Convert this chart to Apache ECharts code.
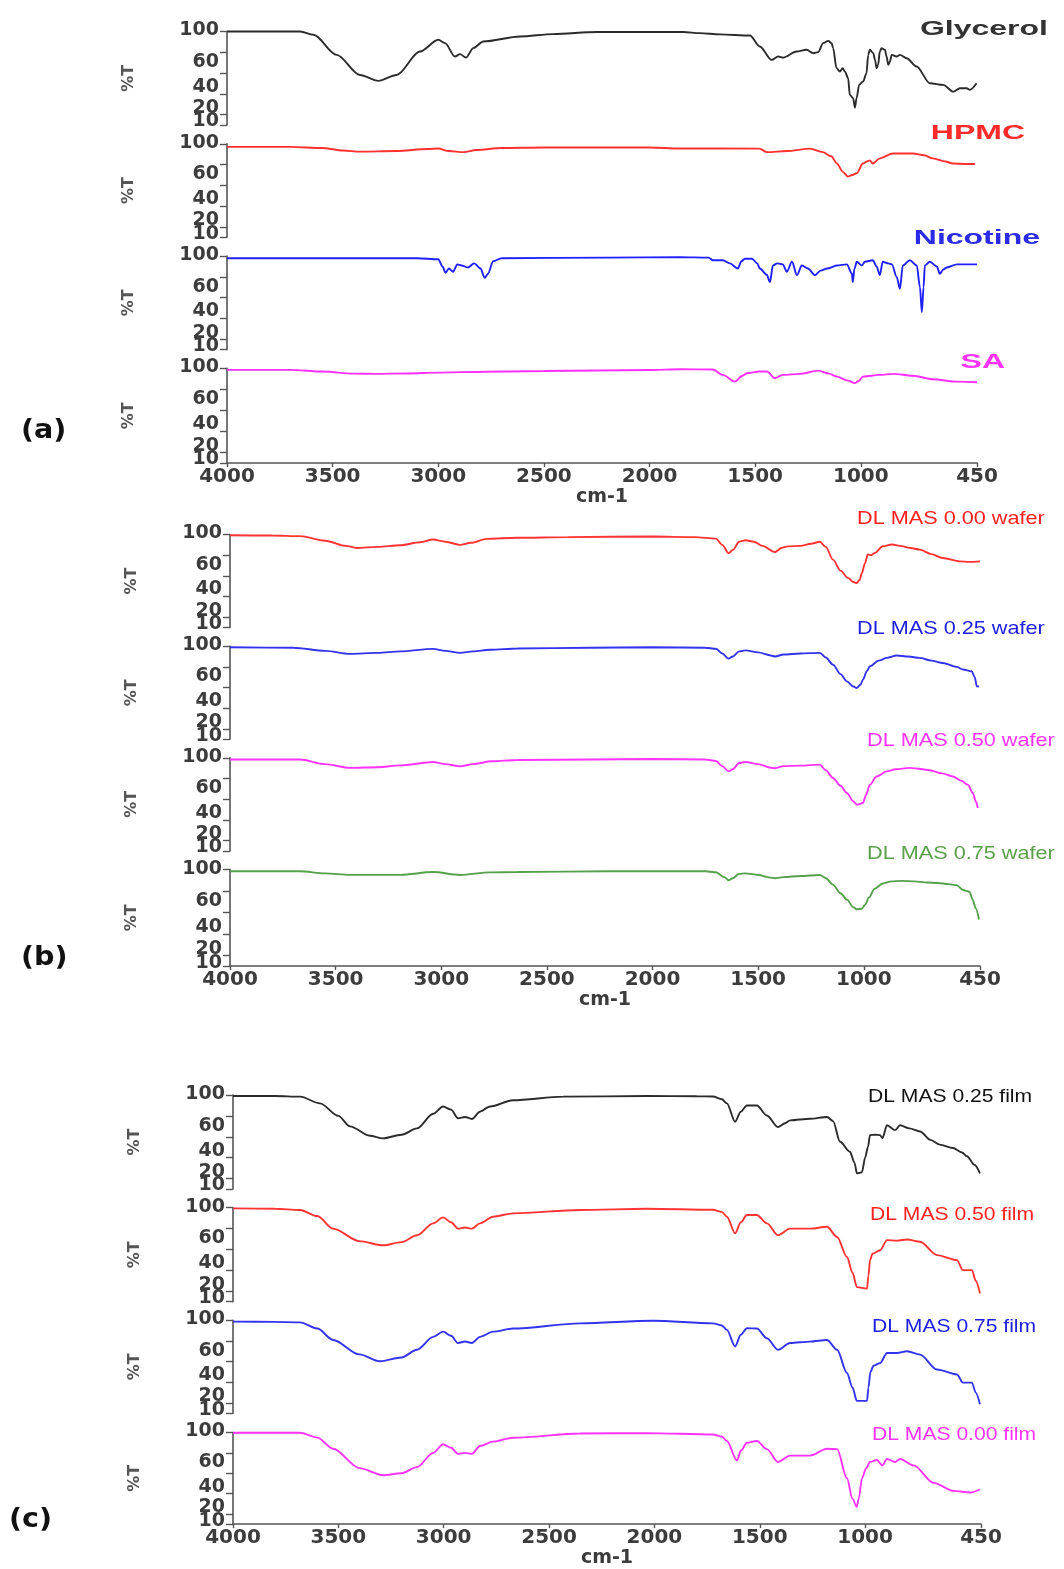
<!DOCTYPE html>
<html>
<head>
<meta charset="utf-8">
<script src="https://cdn.jsdelivr.net/npm/echarts@6/dist/echarts.min.js"></script>
<style>
html,body{margin:0;padding:0;background:#fff;}
#chart{width:1064px;height:1569px;}
</style>
</head>
<body>
<div id="chart"></div>
<script>
// ---------- tick values ----------
const xTicks = [4000, 3500, 3000, 2500, 2000, 1500, 1000, 450];
const yTicks = [100, 80, 60, 40, 20, 10];
const yTickLabels = [100, 60, 40, 20, 10];
const xAxisTitle = 'cm-1';
const yAxisTitle = '%T';
const panelLetters = ['(a)', '(b)', '(c)'];

// ---------- series names ----------
const namesA = ['Glycerol', 'HPMC', 'Nicotine', 'SA'];
const namesB = ['DL MAS 0.00 wafer', 'DL MAS 0.25 wafer', 'DL MAS 0.50 wafer', 'DL MAS 0.75 wafer'];
const namesC = ['DL MAS 0.25 film', 'DL MAS 0.50 film', 'DL MAS 0.75 film', 'DL MAS 0.00 film'];

// ---------- data: [wavenumber cm-1, %T] ----------
const glycerol = [[4000,100],[3654,100],[3591,96.8],[3481,77.5],[3371,58.2],[3284,52.5],[3197,58.2],[3087,80.7],[3000,92],[2968,88.8],[2921,75.9],[2897,78.2],[2869,74.9],[2834,84],[2787,90.4],[2613,95.2],[2456,97.5],[2250,99.5],[1840,99.5],[1762,98.4],[1667,97.2],[1525,96.1],[1478,85.5],[1422,72.7],[1391,75.9],[1367,74.9],[1304,80.7],[1257,82.4],[1225,79.2],[1202,80.1],[1178,88.8],[1154,91],[1138,88.8],[1131,84],[1115,64.7],[1099,61.4],[1086,64.7],[1075,61.4],[1060,55],[1052,39],[1036,35.8],[1028,26.7],[1020,35.8],[1008,48.6],[989,51.8],[973,59.9],[965,77.5],[957,82.4],[941,79.2],[933,72.7],[925,64.7],[918,67.9],[910,80.7],[902,84],[886,82.4],[878,75.9],[870,67.9],[862,71],[854,77.5],[831,75.9],[815,77.5],[783,74.3],[736,66.3],[673,50.2],[610,48.6],[563,42.1],[531,45.4],[499,45.4],[484,43.8],[452,50.2]];
const hpmc = [[4000,97],[3700,97],[3550,96],[3450,93.5],[3370,92.5],[3200,93],[3050,95],[3000,95.5],[2950,93],[2880,92],[2820,94],[2700,96],[2500,96.5],[2000,96.5],[1856,95.5],[1480,95.4],[1444,92],[1350,93],[1241,95.4],[1180,92],[1140,88],[1113,81],[1085,73],[1061,68.5],[1040,70],[1019,71.7],[990,81],[970,83],[957,84],[943,81],[910,86],[848,90.6],[753,90.6],[700,89],[659,86],[600,83],[564,81],[500,80.5],[460,80.5]];
const nicotine = [[4000,98],[3500,98],[3100,98],[3000,97],[2980,90],[2965,84],[2950,88],[2930,85],[2910,92],[2890,91],[2860,89],[2830,93],[2800,88],[2780,79],[2765,83],[2740,95],[2700,98],[2200,98.5],[1856,99],[1720,98.5],[1700,96],[1653,96],[1620,93],[1582,88],[1565,95],[1549,97.5],[1515,97.5],[1490,93],[1478,88],[1445,82],[1430,75],[1416,91],[1395,93],[1369,92],[1350,85],[1326,94.5],[1302,81.7],[1279,91],[1250,88],[1217,81.7],[1190,86],[1160,88],[1113,91],[1066,92],[1042,83],[1038,75],[1030,88],[1019,94.5],[995,91],[981,94.5],[943,96],[925,90],[910,81.7],[896,94.5],[870,93],[853,92],[830,80],[815,68.6],[801,91],[768,96],[735,91],[720,70],[711,46],[703,70],[697,91],[673,94.5],[640,90],[626,83],[610,87],[593,89],[545,92],[500,92],[450,92]];
const sa = [[4000,98.6],[3700,98.6],[3550,97],[3400,95],[3300,94.8],[3150,95.2],[3000,96],[2900,96.5],[2500,97.5],[2000,98.5],[1856,99.2],[1700,99],[1653,93.8],[1596,87.4],[1560,93],[1539,95.4],[1480,97],[1444,97],[1407,90.7],[1369,93.8],[1288,94.8],[1203,97.9],[1150,95],[1113,92.2],[1061,88.4],[1028,86],[1010,88],[990,92.2],[910,93.8],[848,94.8],[753,93],[659,89.7],[545,87.4],[450,86.8]];

const wafer000 = [[4000,99.3],[3800,99],[3669,98.4],[3550,94],[3450,89],[3400,87],[3300,88],[3195,89.6],[3100,92.5],[3039,95.1],[2980,93],[2911,90],[2860,92],[2784,95.8],[2642,96.8],[2400,97.5],[2000,98],[1800,97.5],[1700,96],[1670,90],[1640,82],[1620,85],[1590,93],[1560,94.5],[1520,93],[1480,89],[1420,83],[1390,87],[1360,88.5],[1300,89],[1250,91],[1208,93],[1180,88],[1146,75.7],[1110,65],[1075,58],[1050,54],[1033,53],[1020,56],[1009,62.8],[995,72],[981,80.6],[965,80],[948,82.2],[910,88.6],[867,90.3],[829,89],[780,87],[735,85.4],[680,81],[626,77.3],[545,74],[500,73.5],[450,74]];
const wafer025 = [[4000,99],[3700,98.5],[3550,95.5],[3432,92.6],[3300,93.5],[3195,95],[3039,97.4],[2980,95.5],[2911,93.5],[2850,95],[2770,96.5],[2640,97.8],[2300,98.5],[2000,99],[1750,98.5],[1700,97.5],[1670,93],[1640,88],[1620,90],[1590,95],[1560,96],[1500,94],[1440,91],[1420,90],[1380,92],[1300,93],[1208,93.5],[1180,89],[1146,82.2],[1110,73],[1080,66],[1050,61],[1033,59.6],[1015,63],[1004,67.7],[985,76],[971,80.6],[930,86],[891,88.7],[844,91],[790,90],[735,88.7],[680,86],[626,83.8],[560,80],[531,77.4],[489,75.7],[475,70],[465,61.2],[455,61]];
const wafer050 = [[4000,98.4],[3669,98.4],[3550,94],[3432,90.3],[3300,91],[3195,92.8],[3039,96],[2980,94],[2911,91.8],[2850,94],[2760,96.7],[2640,98],[2300,98.5],[2000,99],[1750,98.5],[1700,97],[1670,92],[1640,87],[1620,89],[1590,95],[1560,96],[1500,94],[1440,90.5],[1420,90],[1380,92],[1300,92.5],[1208,93.5],[1180,88],[1146,80.6],[1110,73],[1080,66],[1050,58],[1033,54.7],[1004,56.3],[990,64],[971,74],[940,82],[891,87],[850,89],[782,90.3],[740,89.5],[688,88],[630,85],[578,82],[540,78],[507,74],[484,66],[470,58],[460,51.5]];
const wafer075 = [[4000,98.4],[3669,98.4],[3550,96.5],[3432,95.1],[3195,95.1],[3039,97.7],[2911,95],[2770,97.4],[2640,97.7],[2200,98.5],[1750,98.5],[1700,97.5],[1660,93],[1640,90],[1620,92],[1590,96],[1560,96.5],[1500,95],[1440,92.5],[1420,92],[1380,93],[1300,94],[1208,95],[1180,92],[1146,86],[1110,78],[1080,72],[1050,65],[1033,63],[1010,63.5],[995,67],[975,74],[950,82],[910,87],[870,89],[820,89.5],[760,89],[700,88],[650,87.5],[600,86.5],[560,85.5],[530,81],[500,79.5],[485,72],[470,64],[455,53.5]];

const film025 = [[4000,99],[3800,99],[3682,98.4],[3587,92],[3500,80],[3445,70],[3350,61],[3288,58.5],[3200,62],[3127,68],[3050,82],[3003,89],[2965,86],[2932,77.7],[2899,79],[2866,77],[2828,84],[2780,89],[2671,95],[2434,98.4],[2035,99],[1800,98.8],[1722,98.5],[1680,96],[1656,92],[1617,74.4],[1590,84],[1561,90],[1514,90],[1466,80.4],[1414,69.3],[1380,73],[1356,75.7],[1261,77.3],[1181,79],[1152,75],[1119,55.2],[1072,45.6],[1050,35],[1039,25],[1015,26],[1000,40],[986,50.5],[977,61.6],[950,62],[929,61.6],[918,58.7],[896,71],[858,66.4],[834,71],[790,68],[739,65],[690,57],[645,52.5],[583,49.2],[540,45],[517,41.4],[480,33],[455,25]];
const film050 = [[4000,99.4],[3800,99],[3682,97.8],[3600,92],[3525,80],[3400,68],[3288,64],[3200,67],[3127,73.6],[3050,85],[3003,90.7],[2965,86],[2932,80],[2899,81],[2866,80],[2828,85],[2766,91.4],[2671,94.6],[2353,97.8],[2035,99],[1722,98],[1680,96],[1656,91.4],[1617,75.4],[1590,86],[1561,93],[1514,93],[1466,85],[1414,73.7],[1356,80],[1261,80],[1181,81.7],[1133,72],[1086,52.8],[1060,38],[1039,24],[991,22.5],[984,35],[977,49.7],[965,56],[929,59.3],[896,69],[849,68.5],[801,69.6],[739,67.4],[659,54.6],[564,49.8],[536,40.2],[493,40.2],[475,30],[455,18]];
const film075 = [[4000,98.7],[3800,98.5],[3682,98],[3600,92],[3525,81],[3400,67],[3303,60.3],[3200,64],[3127,71.5],[3050,84],[3003,89],[2965,85],[2932,78],[2899,79.5],[2866,78],[2828,84],[2766,89],[2671,92],[2353,97],[2007,99.6],[1722,97],[1680,95],[1656,90.7],[1617,74.7],[1590,86],[1561,92.3],[1514,92],[1466,82.6],[1414,71.5],[1356,78],[1261,79.4],[1181,81],[1133,71.5],[1086,49],[1060,35],[1039,22],[991,22],[984,35],[975,50],[960,56],[929,58.6],[896,68.4],[849,68.4],[801,70],[739,66.8],[659,52.4],[564,47.6],[536,39.7],[493,39.7],[475,30],[455,18.8]];
const film000 = [[4000,99.7],[3682,99.7],[3600,95],[3525,84],[3400,65],[3288,58],[3200,60],[3127,66],[3050,80],[3003,88.5],[2965,85],[2932,79],[2899,80],[2866,79],[2828,86.8],[2766,91],[2671,94.9],[2353,99],[2035,99.4],[1722,98],[1680,96],[1656,91.7],[1608,72.5],[1590,82],[1561,90],[1514,91.7],[1466,83.7],[1414,71],[1356,77.3],[1261,77.3],[1181,84],[1133,83.7],[1086,55],[1060,35],[1040,27],[1030,35],[1015,55],[995,65],[977,71],[945,73],[918,67.7],[896,74],[858,71],[834,74],[770,67.7],[675,50.5],[580,42.6],[500,41],[455,44]];

// ---------- layout / styling (not data) ----------
const panels = [
  { left:227, right:977, tops:[31.5,143.8,256.1,368.4], heights:[93.5,93.5,93.5,94.6],
    data:[glycerol,hpmc,nicotine,sa], names:namesA,
    colors:['#2b2b2b','#ff3030','#2020ff','#ff30ff'],
    textColors:['#333333','#ff2a2a','#2a2ae8','#ff33ff'],
    labelPos:[[1048,29,'right'],[1025,133,'right'],[1040,238,'right'],[1005,362,'right']],
    labelFont:'bold 20px "Liberation Sans", Arial, sans-serif', labelScale:1.6,
    letterPos:[21,431] },
  { left:230, right:980, tops:[534.5,646.2,757.9,869.6], heights:[93,93,93,96.5],
    data:[wafer000,wafer025,wafer050,wafer075], names:namesB,
    colors:['#ff3333','#3333ee','#ff33ff','#55a04a'],
    textColors:['#ff2020','#2020e0','#ff33ff','#5aa04a'],
    labelPos:[[857,519,'left'],[857,629,'left'],[867,741,'left'],[867,854,'left']],
    labelFont:'19px "Liberation Sans", Arial, sans-serif', labelScale:1.14,
    letterPos:[21,958] },
  { left:233, right:981, tops:[1095,1207.7,1320.3,1432.5], heights:[94,94,93,95.5],
    data:[film025,film050,film075,film000], names:namesC,
    colors:['#2b2b2b','#ff3333','#3333ee','#ff33ff'],
    textColors:['#111111','#ff2020','#2020e0','#ff33ff'],
    labelPos:[[868,1097,'left'],[870,1215,'left'],[872,1327,'left'],[872,1435,'left']],
    labelFont:'19px "Liberation Sans", Arial, sans-serif', labelScale:1.11,
    letterPos:[9,1520] }
];

const axisColor = '#555';
const tickFont = { fontFamily:'"DejaVu Sans", sans-serif', fontWeight:'bold', fontSize:19, color:'#3c3c3c' };
// label boxes are bottom-aligned to their tick; the line height sets how far each label sits above it
const labelLift = { 100:2, 60:22, 40:14, 20:13, 10:7 };
const rich = {};
yTickLabels.forEach(v => { rich['r'+v] = Object.assign({}, tickFont, { lineHeight:labelLift[v] }); });
// the crowded labels are split over two overlaid axes so none of them gets dropped
const labelSetMain = yTickLabels.filter((v, i) => i % 2 === 0);   // 100, 40, 10
const labelSetAlt  = yTickLabels.filter((v, i) => i % 2 === 1);   // 60, 20

const grids = [], xAxes = [], yAxes = [], series = [], graphics = [];
let gi = 0;
panels.forEach((p, pi) => {
  p.data.forEach((d, si) => {
    const isBottom = si === p.data.length - 1;
    grids.push({ left:p.left, width:p.right - p.left, top:p.tops[si], height:p.heights[si], containLabel:false });
    xAxes.push({
      gridIndex:gi, type:'value', min:450, max:4000, inverse:true, show:isBottom,
      axisLine:{ show:true, onZero:false, lineStyle:{ color:axisColor, width:1.6 } },
      axisTick:{ show:true, length:4, customValues:xTicks, lineStyle:{ color:axisColor, width:1.4 } },
      axisLabel:{ customValues:xTicks, margin:4, ...tickFont, fontSize:20, showMinLabel:true, showMaxLabel:true,
                  hideOverlap:false, formatter:v => String(v) },
      splitLine:{ show:false },
      name:xAxisTitle, nameLocation:'middle', nameGap:24,
      nameTextStyle:{ fontFamily:'"DejaVu Sans", sans-serif', fontWeight:'bold', fontSize:19, color:'#3c3c3c' }
    });
    const labelCommon = { margin:8, showMinLabel:true, showMaxLabel:true, hideOverlap:false,
                          verticalAlign:'bottom', formatter:v => '{r' + v + '|' + v + '}', rich:rich, ...tickFont };
    const yMainIndex = yAxes.length;
    yAxes.push({
      gridIndex:gi, type:'value', min:10, max:100, position:'left', offset:0,
      axisLine:{ show:true, onZero:false, lineStyle:{ color:axisColor, width:1.6 } },
      axisTick:{ show:true, length:7, customValues:yTicks, lineStyle:{ color:axisColor, width:1.4 } },
      axisLabel:Object.assign({ customValues:labelSetMain }, labelCommon),
      splitLine:{ show:false },
      name:yAxisTitle, nameLocation:'middle', nameGap:90, nameRotate:90,
      nameTextStyle:{ fontFamily:'"DejaVu Sans", sans-serif', fontWeight:'bold', fontSize:16, color:'#555' }
    });
    yAxes.push({
      gridIndex:gi, type:'value', min:10, max:100, position:'left', offset:0,
      axisLine:{ show:false }, axisTick:{ show:false },
      axisLabel:Object.assign({ customValues:labelSetAlt }, labelCommon),
      splitLine:{ show:false }
    });
    series.push({
      type:'line', name:p.names[si], xAxisIndex:gi, yAxisIndex:yMainIndex, data:d,
      showSymbol:false, smooth:0.3, smoothMonotone:'x', clip:false,
      lineStyle:{ color:p.colors[si], width:1.9 }
    });
    const lp = p.labelPos[si];
    graphics.push({
      type:'text', x:lp[0], y:lp[1], scaleX:p.labelScale, silent:true,
      style:{ text:p.names[si], font:p.labelFont, fill:p.textColors[si],
              textAlign:lp[2], align:lp[2], textVerticalAlign:'middle', verticalAlign:'middle' }
    });
    gi++;
  });
  graphics.push({
    type:'text', x:p.letterPos[0], y:p.letterPos[1], scaleX:1.1, silent:true,
    style:{ text:panelLetters[pi], font:'bold 26px "DejaVu Sans", sans-serif', fill:'#111',
            textAlign:'left', align:'left', textVerticalAlign:'middle', verticalAlign:'middle' }
  });
});

const chart = echarts.init(document.getElementById('chart'));
chart.setOption({
  backgroundColor:'#ffffff',
  animation:false,
  grid:grids, xAxis:xAxes, yAxis:yAxes, series:series,
  graphic:{ elements:graphics }
});
</script>
</body>
</html>
